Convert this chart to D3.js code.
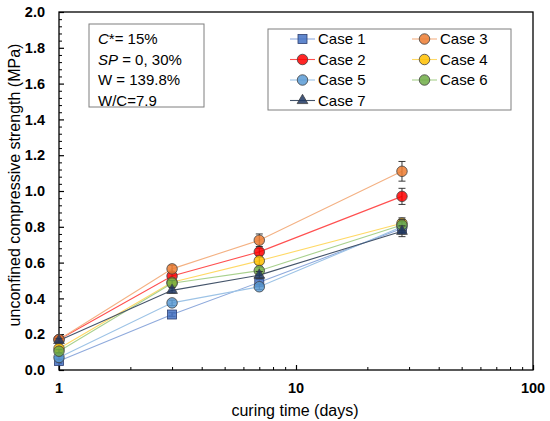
<!DOCTYPE html>
<html>
<head>
<meta charset="utf-8">
<script src="https://cdn.jsdelivr.net/npm/d3@7"></script>
<style>
  body { margin: 0; background: #fff; }
  text { font-family: 'Liberation Sans', Arial, sans-serif; }
</style>
</head>
<body>
<div id="wrapper"></div>
<script>
// curing days and UCS (MPa) per case
const days = [1, 3, 7, 28]
const caseNames = ['Case 1', 'Case 2', 'Case 3', 'Case 4', 'Case 5', 'Case 6', 'Case 7']
const case1 = [0.05, 0.31, 0.49, 0.79]
const case2 = [0.17, 0.525, 0.66, 0.97]
const case3 = [0.17, 0.565, 0.725, 1.11]
const case4 = [0.12, 0.49, 0.61, 0.82]
const case5 = [0.07, 0.375, 0.465, 0.80]
const case6 = [0.105, 0.485, 0.555, 0.81]
const case7 = [0.165, 0.445, 0.53, 0.775]
const err1 = [0.01, 0.01, 0.015, 0.03]
const err2 = [0.01, 0.02, 0.02, 0.045]
const err3 = [0.01, 0.02, 0.035, 0.055]
const err4 = [0.01, 0.015, 0.02, 0.03]
const err5 = [0.01, 0.015, 0.015, 0.03]
const err6 = [0.01, 0.015, 0.02, 0.03]
const err7 = [0.01, 0.015, 0.02, 0.03]
const yTicks = [0, 0.2, 0.4, 0.6, 0.8, 1.0, 1.2, 1.4, 1.6, 1.8, 2.0]
const xTicks = [1, 10, 100]
const noteLines = [
  [{ t: 'C', i: true }, { t: '*= 15%' }],
  [{ t: 'SP', i: true }, { t: ' = 0, 30%' }],
  [{ t: 'W = 139.8%' }],
  [{ t: 'W/C=7.9' }],
]

const values = [case1, case2, case3, case4, case5, case6, case7]
const errs = [err1, err2, err3, err4, err5, err6, err7]
const markerColor = ['#4472C4', '#FF0000', '#ED7D31', '#FFC000', '#5B9BD5', '#70AD47', '#203864']
const lineColor = ['#8FAADC', '#FF5050', '#F4B183', '#FFD966', '#9DC3E6', '#A9D18E', '#44546A']
const shapes = ['square', 'circle', 'circle', 'circle', 'circle', 'circle', 'triangle']

const series = caseNames.map((name, i) => ({
  name,
  i,
  points: days.map((d, j) => ({ day: d, v: values[i][j], e: errs[i][j] })),
}))

const dimensions = {
  width: 550,
  height: 421,
  margin: { top: 12, right: 17, bottom: 51, left: 59 },
}
dimensions.boundedWidth = dimensions.width - dimensions.margin.left - dimensions.margin.right
dimensions.boundedHeight = dimensions.height - dimensions.margin.top - dimensions.margin.bottom

const svg = d3
  .select('#wrapper')
  .append('svg')
  .attr('width', dimensions.width)
  .attr('height', dimensions.height)

const bounds = svg
  .append('g')
  .attr('transform', `translate(${dimensions.margin.left}, ${dimensions.margin.top})`)

const xScale = d3.scaleLog().domain([1, 100]).range([0, dimensions.boundedWidth])
const yScale = d3.scaleLinear().domain([0, 2]).range([dimensions.boundedHeight, 0])

// plot frame
bounds
  .append('rect')
  .attr('width', dimensions.boundedWidth)
  .attr('height', dimensions.boundedHeight)
  .attr('fill', 'none')
  .attr('stroke', '#000')
  .attr('stroke-width', 1.3)

// y axis: major + minor ticks pointing inward
const yMinor = d3.range(0, 2.0001, 0.04).filter((v) => !yTicks.some((t) => Math.abs(t - v) < 1e-6))
const yAxis = bounds
  .append('g')
  .call(d3.axisRight(yScale).tickValues(yTicks).tickSize(5).tickFormat(''))
yAxis.select('.domain').remove()
yAxis.selectAll('line').attr('stroke', '#000').attr('stroke-width', 1.2)
bounds
  .append('g')
  .call(d3.axisRight(yScale).tickValues(yMinor).tickSize(3).tickFormat(''))
  .call((g) => g.select('.domain').remove())
  .selectAll('line')
  .attr('stroke', '#000')

bounds
  .append('g')
  .selectAll('text')
  .data(yTicks)
  .join('text')
  .attr('x', -14)
  .attr('y', (d) => yScale(d))
  .attr('dy', '0.36em')
  .attr('text-anchor', 'end')
  .attr('font-size', 14.5)
  .attr('font-weight', 'bold')
  .text((d) => d3.format('.1f')(d))

// x axis: log ticks pointing inward
const xMinor = [2, 3, 4, 5, 6, 7, 8, 9, 20, 30, 40, 50, 60, 70, 80, 90]
const xAxis = bounds
  .append('g')
  .attr('transform', `translate(0, ${dimensions.boundedHeight})`)
  .call(d3.axisTop(xScale).tickValues(xTicks).tickSize(5).tickFormat(''))
xAxis.select('.domain').remove()
xAxis.selectAll('line').attr('stroke', '#000').attr('stroke-width', 1.2)
bounds
  .append('g')
  .attr('transform', `translate(0, ${dimensions.boundedHeight})`)
  .call(d3.axisTop(xScale).tickValues(xMinor).tickSize(3).tickFormat(''))
  .call((g) => g.select('.domain').remove())
  .selectAll('line')
  .attr('stroke', '#000')

bounds
  .append('g')
  .selectAll('text')
  .data(xTicks)
  .join('text')
  .attr('x', (d) => xScale(d))
  .attr('y', dimensions.boundedHeight + 23)
  .attr('text-anchor', 'middle')
  .attr('font-size', 14.5)
  .attr('font-weight', 'bold')
  .text((d) => d)

// axis titles
svg
  .append('text')
  .attr('x', dimensions.margin.left + xScale(10) - 1)
  .attr('y', 416)
  .attr('text-anchor', 'middle')
  .attr('font-size', 16)
  .text('curing time (days)')

svg
  .append('text')
  .attr('transform', `translate(20, ${dimensions.margin.top + dimensions.boundedHeight / 2 - 6}) rotate(-90)`)
  .attr('text-anchor', 'middle')
  .attr('font-size', 16)
  .text('unconfined compressive strength (MPa)')

// lines
const lineGenerator = d3
  .line()
  .x((d) => xScale(d.day))
  .y((d) => yScale(d.v))

bounds
  .append('g')
  .selectAll('path')
  .data(series)
  .join('path')
  .attr('fill', 'none')
  .attr('stroke', (d) => lineColor[d.i])
  .attr('stroke-width', 1.1)
  .attr('d', (d) => lineGenerator(d.points))

// marker drawing helper
function drawMarker(g, shape, fill, size) {
  if (shape === 'square') {
    g.append('rect')
      .attr('x', -size / 2)
      .attr('y', -size / 2)
      .attr('width', size)
      .attr('height', size)
      .attr('fill', fill)
      .attr('fill-opacity', 0.85)
      .attr('stroke', '#2F3F6F')
      .attr('stroke-width', 0.8)
  } else {
    const type = shape === 'triangle' ? d3.symbolTriangle : d3.symbolCircle
    const area = shape === 'triangle' ? size * size * 0.45 : Math.PI * (size / 2) * (size / 2)
    g.append('path')
      .attr('d', d3.symbol().type(type).size(area)())
      .attr('fill', fill)
      .attr('fill-opacity', 0.85)
      .attr('stroke', '#404040')
      .attr('stroke-width', 0.8)
  }
}

// error bars + markers, case 1 first so case 7 sits on top
series.forEach((s) => {
  const g = bounds.append('g')
  const eb = g
    .selectAll('g.err')
    .data(s.points)
    .join('g')
    .attr('class', 'err')
    .attr('stroke', '#222')
    .attr('stroke-width', 0.9)
  eb.append('line')
    .attr('x1', (d) => xScale(d.day))
    .attr('x2', (d) => xScale(d.day))
    .attr('y1', (d) => yScale(d.v - d.e))
    .attr('y2', (d) => yScale(d.v + d.e))
  ;[-1, 1].forEach((sgn) => {
    eb.append('line')
      .attr('x1', (d) => xScale(d.day) - 3.5)
      .attr('x2', (d) => xScale(d.day) + 3.5)
      .attr('y1', (d) => yScale(d.v + sgn * d.e))
      .attr('y2', (d) => yScale(d.v + sgn * d.e))
  })
  s.points.forEach((p) => {
    const m = g.append('g').attr('transform', `translate(${xScale(p.day)}, ${yScale(p.v)})`)
    drawMarker(m, shapes[s.i], markerColor[s.i], s.i === 0 ? 9 : 10.5)
  })
})

// note box
const note = svg.append('g').attr('transform', 'translate(89, 24)')
note
  .append('rect')
  .attr('width', 115)
  .attr('height', 83)
  .attr('fill', '#fff')
  .attr('stroke', '#7F7F7F')
  .attr('stroke-width', 1)
note
  .selectAll('text')
  .data(noteLines)
  .join('text')
  .attr('x', 9)
  .attr('y', (d, i) => 20 + i * 20.5)
  .attr('font-size', 15)
  .each(function (parts) {
    d3.select(this)
      .selectAll('tspan')
      .data(parts)
      .join('tspan')
      .attr('font-style', (p) => (p.i ? 'italic' : 'normal'))
      .text((p) => p.t)
  })

// legend
const legend = svg.append('g').attr('transform', 'translate(268, 29)')
legend
  .append('rect')
  .attr('width', 243)
  .attr('height', 81)
  .attr('fill', '#fff')
  .attr('stroke', '#7F7F7F')
  .attr('stroke-width', 1)

const legendPos = [
  [0, 0], [0, 1], [1, 0], [1, 1], [0, 2], [1, 2], [0, 3],
]
series.forEach((s) => {
  const [col, row] = legendPos[s.i]
  const item = legend.append('g').attr('transform', `translate(${22 + col * 122}, ${10 + row * 20.5})`)
  item
    .append('line')
    .attr('x1', 0)
    .attr('x2', 25)
    .attr('stroke', lineColor[s.i])
    .attr('stroke-width', 1.1)
  const m = item.append('g').attr('transform', 'translate(12.5, 0)')
  drawMarker(m, shapes[s.i], markerColor[s.i], s.i === 0 ? 9 : 10.5)
  item
    .append('text')
    .attr('x', 28)
    .attr('dy', '0.36em')
    .attr('font-size', 15)
    .text(s.name)
})
</script>
</body>
</html>
